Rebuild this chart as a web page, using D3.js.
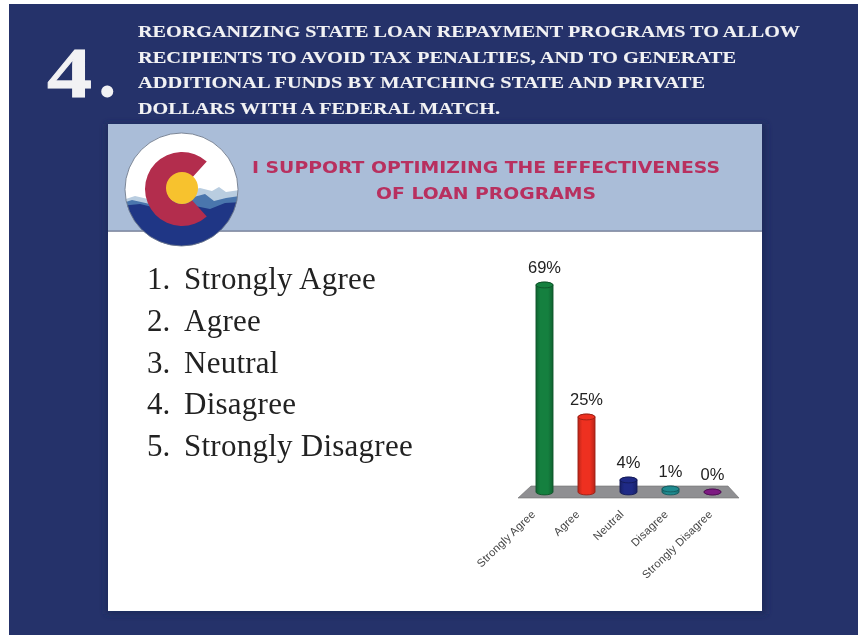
<!DOCTYPE html>
<html>
<head>
<meta charset="utf-8">
<script src="https://cdn.jsdelivr.net/npm/d3@7/dist/d3.min.js"></script>
<style>
html,body{margin:0;padding:0;background:#fff;overflow:hidden}
svg{display:block;filter:blur(0.35px)}
</style>
</head>
<body>
<svg id="c" width="858" height="635"></svg>
<script>
const categories = ["Strongly Agree","Agree","Neutral","Disagree","Strongly Disagree"];
const values = [69,25,4,1,0];
const barColors = ["#15803f","#ee3020","#1f2a86","#1f8a8f","#7d1a82"];
const headingLines = [
  "REORGANIZING STATE LOAN REPAYMENT PROGRAMS TO ALLOW",
  "RECIPIENTS TO AVOID TAX PENALTIES, AND TO GENERATE",
  "ADDITIONAL FUNDS BY MATCHING STATE AND PRIVATE",
  "DOLLARS WITH A FEDERAL MATCH."
];
const headingWidths = [662,598,567,362];
const listItems = ["Strongly Agree","Agree","Neutral","Disagree","Strongly Disagree"];

const svg = d3.select("#c");
const defs = svg.append("defs");
const serif = "'Liberation Serif',serif";
const wide = "'DejaVu Sans',sans-serif";
const sans = "'Liberation Sans',Arial,sans-serif";

// page
svg.append("rect").attr("width",858).attr("height",635).attr("fill","#fff");
svg.append("rect").attr("x",9).attr("y",4).attr("width",849).attr("height",631).attr("fill","#25326a");

// heading
svg.append("text").attr("transform","translate(47,97) scale(1.27,1)")
  .attr("font-family",serif).attr("font-weight","bold")
  .attr("font-size",71).attr("fill","#f2f2f4").attr("stroke","#f2f2f4").attr("stroke-width",0.8)
  .text("4");
svg.append("text").attr("x",98).attr("y",97)
  .attr("font-family",serif).attr("font-weight","bold")
  .attr("font-size",74).attr("fill","#f2f2f4")
  .text(".");
svg.append("g").selectAll("text").data(headingLines).join("text")
  .attr("x",138).attr("y",(d,i)=>37+i*25.7)
  .attr("font-family",serif).attr("font-weight","bold").attr("font-size",16.5)
  .attr("fill","#f2f2f4").attr("stroke","#f2f2f4").attr("stroke-width",0.1)
  .attr("textLength",(d,i)=>headingWidths[i]).attr("lengthAdjust","spacingAndGlyphs")
  .text(d=>d);

// panel
const blur = defs.append("filter").attr("id","sh").attr("x","-5%").attr("y","-5%").attr("width","110%").attr("height","110%");
blur.append("feGaussianBlur").attr("stdDeviation",3);
svg.append("rect").attr("x",106).attr("y",124).attr("width",660).attr("height",490).attr("fill","#1f2a5c").attr("filter","url(#sh)");
svg.append("rect").attr("x",108).attr("y",124).attr("width",654).attr("height",487).attr("fill","#fff");
svg.append("rect").attr("x",108).attr("y",124).attr("width",654).attr("height",107).attr("fill","#aabdd8");
svg.append("rect").attr("x",108).attr("y",230.5).attr("width",654).attr("height",1.2).attr("fill","#66708a");

// panel title
const title = svg.append("g").attr("font-family",wide).attr("font-weight","bold").attr("fill","#b8305f");
title.append("text").attr("x",252).attr("y",172.5).attr("font-size",15.5)
  .attr("textLength",468).attr("lengthAdjust","spacingAndGlyphs")
  .text("I SUPPORT OPTIMIZING THE EFFECTIVENESS");
title.append("text").attr("x",376).attr("y",198.5).attr("font-size",15.5)
  .attr("textLength",220).attr("lengthAdjust","spacingAndGlyphs")
  .text("OF LOAN PROGRAMS");

// logo
const lx=181.5, ly=189.5, lr=56.5;
defs.append("clipPath").attr("id","lc").append("circle").attr("cx",lx).attr("cy",ly).attr("r",lr);
const logo = svg.append("g");
logo.append("circle").attr("cx",lx).attr("cy",ly).attr("r",lr).attr("fill","#fff");
const lc = logo.append("g").attr("clip-path","url(#lc)");
lc.append("path").attr("fill","#b9cde0")
  .attr("d","M120 201 L135 196 L148 199 L170 195 L200 188 L212 191 L219 187 L226 192 L240 190 L240 230 L120 230Z");
lc.append("path").attr("fill","#4a76ad")
  .attr("d","M120 204 L132 200 L150 204 L190 198 L205 194 L214 201 L226 198 L240 196 L240 230 L120 230Z");
lc.append("path").attr("fill","#1f3685")
  .attr("d","M120 206 L140 204 L165 210 L195 206 L210 209 L225 203 L240 202 L240 250 L120 250Z");
logo.append("path").attr("transform","translate(182,189)").attr("fill","#b32d4d")
  .attr("d",d3.arc().innerRadius(15).outerRadius(37).startAngle(138*Math.PI/180).endAngle(402*Math.PI/180)());
logo.append("circle").attr("cx",182).attr("cy",188).attr("r",16).attr("fill","#f7c22e");
logo.append("circle").attr("cx",lx).attr("cy",ly).attr("r",lr).attr("fill","none").attr("stroke","#6f7a8c").attr("stroke-width",0.9);

// list
const list = svg.append("g").attr("font-family",serif).attr("font-size",31).attr("fill","#222");
const listY = d3.scalePoint().domain(d3.range(5)).range([289,456]);
list.selectAll("text.n").data(listItems).join("text").attr("class","n")
  .attr("x",147).attr("y",(d,i)=>listY(i)).text((d,i)=>(i+1)+".");
list.selectAll("text.t").data(listItems).join("text").attr("class","t")
  .attr("x",184).attr("y",(d,i)=>listY(i)).attr("letter-spacing",0.25).text(d=>d);

// chart
const x = d3.scaleBand().domain(categories).range([523.5,733.5]).paddingInner(0.595).paddingOuter(0.2975);
const y = d3.scaleLinear().domain([0,69]).range([492,285]);
const labelX = d3.scalePoint().domain(categories).range([535.5,712.5]);
const rx = x.bandwidth()/2, ry = 2.9;

const floorPts = [[531,486],[728,486],[739,498],[518,498]];
const chart = svg.append("g");
chart.append("polygon").attr("points",floorPts.join(" ")).attr("fill","#8f8f92").attr("stroke","#6e6e70").attr("stroke-width",0.6);

barColors.forEach((c,i)=>{
  const g = defs.append("linearGradient").attr("id","g"+i);
  const col = d3.color(c);
  g.append("stop").attr("offset","0").attr("stop-color",col.darker(0.7));
  g.append("stop").attr("offset","0.25").attr("stop-color",col);
  g.append("stop").attr("offset","0.7").attr("stop-color",col);
  g.append("stop").attr("offset","1").attr("stop-color",col.darker(0.7));
});

const bars = chart.selectAll("g.bar").data(categories).join("g").attr("class","bar");
bars.append("path")
  .attr("fill",(d,i)=>`url(#g${i})`)
  .attr("stroke",(d,i)=>d3.color(barColors[i]).darker(1.2))
  .attr("stroke-width",0.9)
  .attr("d",(d,i)=>{
    const l=x(d), r=l+x.bandwidth(), t=y(values[i]), b=y(0);
    return `M${l} ${t} L${l} ${b} A${rx} ${ry} 0 0 0 ${r} ${b} L${r} ${t} A${rx} ${ry} 0 0 0 ${l} ${t}Z`;
  });
bars.append("ellipse")
  .attr("cx",d=>x(d)+rx).attr("cy",(d,i)=>y(values[i])).attr("rx",rx).attr("ry",ry)
  .attr("fill",(d,i)=>d3.color(barColors[i]))
  .attr("stroke",(d,i)=>d3.color(barColors[i]).darker(1.2)).attr("stroke-width",0.9);

chart.selectAll("text.v").data(categories).join("text").attr("class","v")
  .attr("x",d=>x(d)+rx).attr("y",(d,i)=>y(values[i])-12)
  .attr("text-anchor","middle").attr("font-family",sans).attr("font-size",16.5).attr("fill","#222")
  .text((d,i)=>values[i]+"%");

const axis = chart.append("g").attr("transform","translate(0,515)")
  .call(d3.axisBottom(labelX).tickSize(0).tickPadding(0));
axis.select(".domain").remove();
axis.selectAll("text")
  .attr("font-family",sans).attr("font-size",11.2).attr("fill","#444").attr("letter-spacing",0.2)
  .attr("text-anchor","end").attr("dy",0)
  .attr("transform","rotate(-44)");
</script>
</body>
</html>
